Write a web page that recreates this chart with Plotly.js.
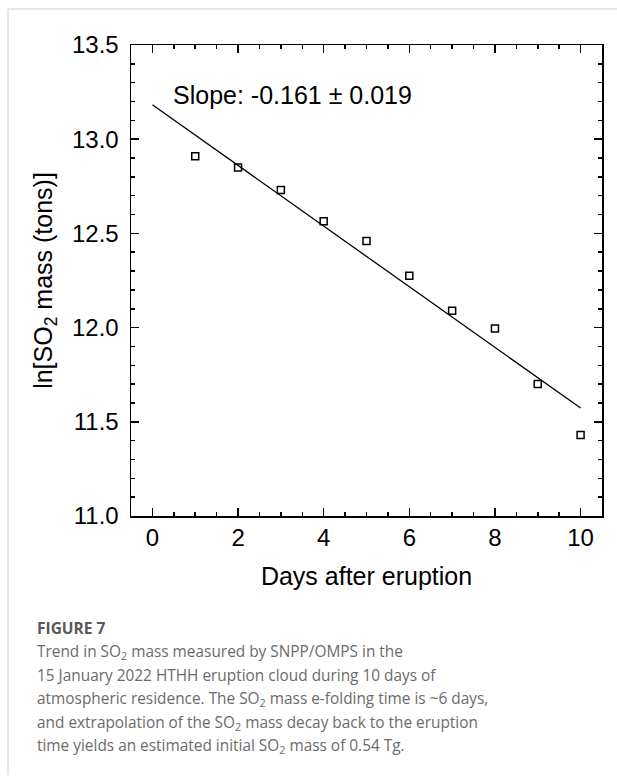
<!DOCTYPE html>
<html>
<head>
<meta charset="utf-8">
<script src="https://cdn.plot.ly/plotly-3.0.1.min.js"></script>
<style>
  html, body { margin: 0; padding: 0; background: #ffffff; }
  #chart { width: 617px; height: 778px; }
</style>
</head>
<body>
<div id="chart"></div>
<script>
// Data
const days = [1, 2, 3, 4, 5, 6, 7, 8, 9, 10];
const lnMass = [12.91, 12.85, 12.73, 12.565, 12.46, 12.275, 12.09, 11.995, 11.70, 11.43];
const fitDays = [0, 10];
const fitLnMass = [13.183, 11.573];
const slopeLabel = 'Slope: -0.161 \u00b1 0.019';
const captionTitle = 'FIGURE 7';
const captionLines = [
  'Trend in SO<sub>2</sub> mass measured by SNPP/OMPS in the',
  '15 January 2022 HTHH eruption cloud during 10 days of',
  'atmospheric residence. The SO<sub>2</sub> mass e-folding time is ~6 days,',
  'and extrapolation of the SO<sub>2</sub> mass decay back to the eruption',
  'time yields an estimated initial SO<sub>2</sub> mass of 0.54 Tg.'
];

const W = 617, H = 778;
const mL = 131, mR = 15, mT = 45, mB = 262;
const pw = W - mL - mR, ph = H - mT - mB;
const px = x => (x - mL) / pw;
const py = y => (H - mB - y) / ph;

const plotFont = 'Liberation Sans, Arial, Helvetica, sans-serif';
const capFont = 'Open Sans, Noto Sans, sans-serif';

const traces = [
  {
    x: fitDays, y: fitLnMass, type: 'scatter', mode: 'lines',
    line: { color: '#000000', width: 1.3 }, hoverinfo: 'skip', showlegend: false
  },
  {
    x: days, y: lnMass, type: 'scatter', mode: 'markers',
    marker: { symbol: 'square-open', size: 7, color: '#000000', line: { width: 1.5, color: '#000000' } },
    showlegend: false
  }
];

const annotations = [
  {
    xref: 'paper', yref: 'paper', x: px(171), y: py(95), xanchor: 'left', yanchor: 'middle',
    text: slopeLabel, showarrow: false, font: { family: plotFont, size: 25, color: '#000000' }
  },
  {
    xref: 'paper', yref: 'paper', x: px(35), y: py(628), xanchor: 'left', yanchor: 'middle',
    text: '<b>' + captionTitle + '</b>', showarrow: false,
    font: { family: capFont, size: 15.5, color: '#595959' }
  }
];
const lineYs = [652, 675.5, 699, 722.5, 746];
captionLines.forEach((t, i) => {
  annotations.push({
    xref: 'paper', yref: 'paper', x: px(35), y: py(lineYs[i]), xanchor: 'left', yanchor: 'middle',
    text: t, showarrow: false, font: { family: capFont, size: 15.4, color: '#6b6b6b' }
  });
});

const shapes = [
  { type: 'line', xref: 'paper', yref: 'paper', x0: px(8), x1: px(617), y0: py(9), y1: py(9),
    line: { color: '#cccccc', width: 1 } },
  { type: 'line', xref: 'paper', yref: 'paper', x0: px(8), x1: px(8), y0: py(9), y1: py(775),
    line: { color: '#cccccc', width: 1 } }
];

const layout = {
  width: W, height: H,
  margin: { l: mL, r: mR, t: mT, b: mB, pad: 0 },
  paper_bgcolor: '#ffffff', plot_bgcolor: '#ffffff',
  font: { family: plotFont, color: '#000000' },
  showlegend: false,
  xaxis: {
    range: [-0.5, 10.5], tick0: 0, dtick: 2, ticks: 'inside', ticklen: 8, tickwidth: 1.5,
    tickcolor: '#000000', showline: true, linewidth: 1.5, linecolor: '#000000', mirror: 'ticks',
    showgrid: false, zeroline: false,
    minor: { dtick: 0.5, tick0: 0, ticks: 'inside', ticklen: 4, tickwidth: 1.5, tickcolor: '#000000', showgrid: false },
    tickfont: { family: plotFont, size: 24, color: '#000000' },
    ticklabelstandoff: 0,
    title: { text: 'Days after eruption', font: { family: plotFont, size: 25, color: '#000000' }, standoff: 17 }
  },
  yaxis: {
    range: [11, 13.5], tick0: 11, dtick: 0.5, tickformat: '.1f', ticks: 'inside', ticklen: 8, tickwidth: 1.5,
    tickcolor: '#000000', showline: true, linewidth: 1.5, linecolor: '#000000', mirror: 'ticks',
    showgrid: false, zeroline: false,
    minor: { dtick: 0.1, tick0: 11, ticks: 'inside', ticklen: 4, tickwidth: 1.5, tickcolor: '#000000', showgrid: false },
    tickfont: { family: plotFont, size: 24, color: '#000000' },
    ticklabelstandoff: 6,
    title: { text: 'ln[SO<sub>2</sub> mass (tons)]', font: { family: plotFont, size: 25, color: '#000000' }, standoff: 12 }
  },
  annotations: annotations,
  shapes: shapes
};

Plotly.newPlot('chart', traces, layout, { displayModeBar: false, staticPlot: true });
</script>
</body>
</html>
